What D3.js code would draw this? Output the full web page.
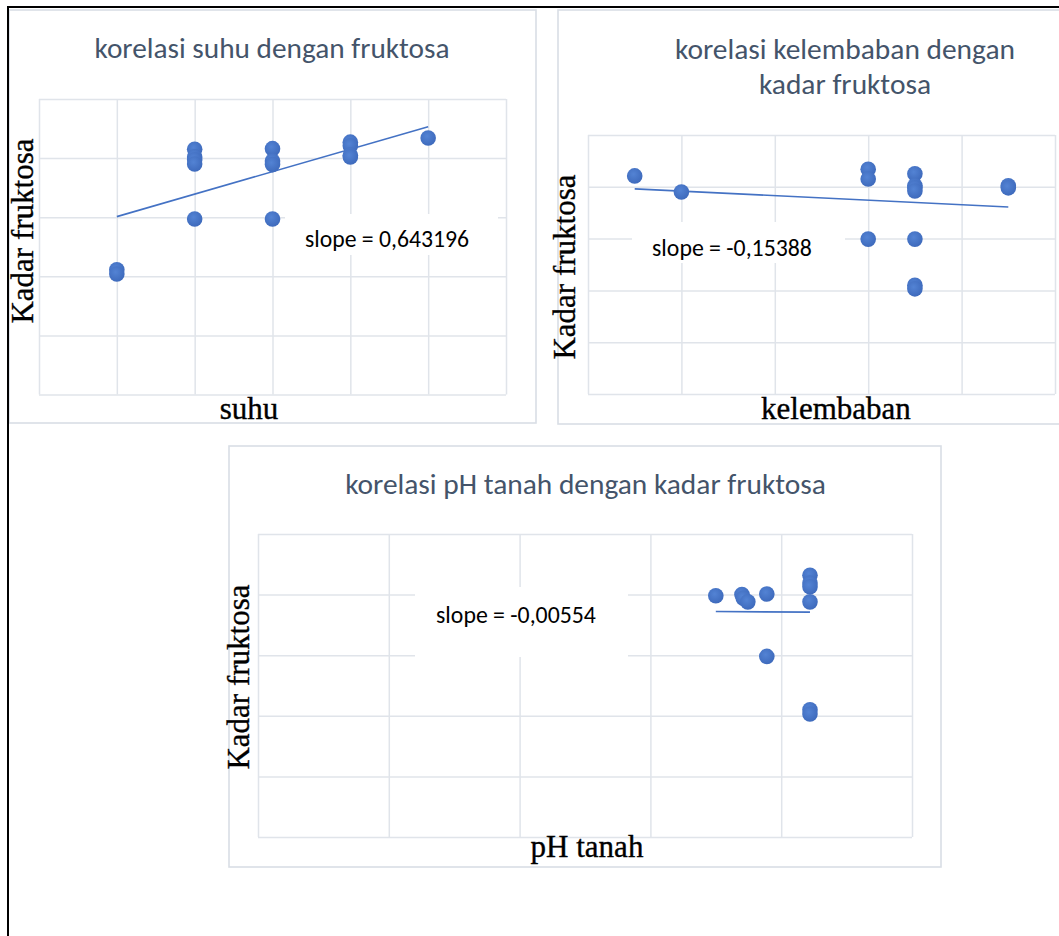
<!DOCTYPE html>
<html><head><meta charset="utf-8">
<script src="https://cdn.jsdelivr.net/npm/d3@7"></script>
<style>html,body{margin:0;padding:0;background:#fff;} svg{display:block;}</style>
</head><body><svg id="c" width="1059" height="936"></svg>
<script>
// ---------------- data ----------------
const yTicks = [0, 1, 2, 3, 4, 5];

// chart 1: suhu
const suhuTicks = [0, 1, 2, 3, 4, 5, 6];
const suhuX = [1, 1, 2, 2, 2, 2, 2, 3, 3, 3, 3, 4, 4, 4, 4, 5];
const suhuY = [2.11, 2.04, 4.15, 4.02, 3.97, 3.90, 2.97, 4.16, 3.95, 3.89, 2.97, 4.27, 4.21, 4.05, 4.02, 4.34];
const suhuTrendX = [1, 5];
const suhuTrendY = [3.01, 4.53];
const suhuSlope = "slope = 0,643196";

// chart 2: kelembaban
const kelTicks = [0, 20, 40, 60, 80, 100];
const kelX = [10, 20, 60, 60, 60, 70, 70, 70, 70, 70, 70, 70, 90, 90];
const kelY = [4.21, 3.90, 4.34, 4.15, 2.99, 4.25, 4.02, 3.98, 3.92, 2.99, 2.10, 2.03, 4.02, 3.98];
const kelTrendX = [10, 90];
const kelTrendY = [3.96, 3.61];
const kelSlope = "slope = -0,15388";

// chart 3: pH tanah
const phTicks = [0, 2, 4, 6, 8, 10];
const phX = [7.0, 7.4, 7.42, 7.49, 7.78, 7.78, 8.44, 8.44, 8.44, 8.44, 8.44, 8.44];
const phY = [3.98, 4.00, 3.94, 3.88, 4.01, 2.98, 4.32, 4.19, 4.13, 3.88, 2.10, 2.03];
const phTrendX = [7.0, 8.44];
const phTrendY = [3.72, 3.71];
const phSlope = "slope = -0,00554";

const titles = [
  ["korelasi suhu dengan fruktosa"],
  ["korelasi kelembaban dengan", "kadar fruktosa"],
  ["korelasi pH tanah dengan kadar fruktosa"]
];
const xLabels = ["suhu", "kelembaban", "pH tanah"];
const yLabel = "Kadar fruktosa";

// ---------------- drawing ----------------
const svg = d3.select("#c");
const SANS = "Carlito, Calibri, Lato, 'Open Sans', sans-serif";
const SERIF = "'Liberation Serif', 'Times New Roman', serif";
const GRID = "#e0e4ea";
const BORDER = "#d9dee5";
const BLUE = "#4472C4";

const defs = svg.append("defs");
const grad = defs.append("radialGradient").attr("id", "mk").attr("cx", "42%").attr("cy", "38%").attr("r", "65%");
grad.append("stop").attr("offset", "0%").attr("stop-color", "#5383d4");
grad.append("stop").attr("offset", "100%").attr("stop-color", "#3d69bb");

svg.append("rect").attr("width", 1059).attr("height", 936).attr("fill", "#fff");

function fit(sel, target, base) {
  sel.style("font-size", base + "px");
  const w = sel.node().getComputedTextLength();
  const s = base * target / w;
  sel.style("font-size", s + "px");
  return s;
}

const charts = [
  { xs: suhuX, ys: suhuY, tx: suhuTrendX, ty: suhuTrendY, ticks: suhuTicks, slope: suhuSlope,
    box: [9, 10, 527, 413], plot: [39, 99, 506, 394.5],
    titleX: 272, titleY: [58], titleW: 355,
    yl: [33, 231], xl: [249, 419],
    sbox: [285, 214, 213, 41], stext: [387, 247], sW: 164 },
  { xs: kelX, ys: kelY, tx: kelTrendX, ty: kelTrendY, ticks: kelTicks, slope: kelSlope,
    box: [558, 10, 520, 414], plot: [588, 135, 1055, 394],
    titleX: 845, titleY: [59, 94], titleW: 340,
    yl: [575, 267], xl: [836, 419],
    sbox: [632, 222, 213, 41], stext: [732, 256], sW: 160 },
  { xs: phX, ys: phY, tx: phTrendX, ty: phTrendY, ticks: phTicks, slope: phSlope,
    box: [229, 446, 712, 421], plot: [258, 534, 912, 837],
    titleX: 585.5, titleY: [494], titleW: 481,
    yl: [249, 677], xl: [587, 857],
    sbox: [415, 587, 213, 70], stext: [516, 623], sW: 160 }
];

charts.forEach((c, i) => {
  const g = svg.append("g");
  g.append("rect").attr("x", c.box[0]).attr("y", c.box[1]).attr("width", c.box[2]).attr("height", c.box[3])
    .attr("fill", "#fff").attr("stroke", BORDER).attr("stroke-width", 1.6);

  const [l, t, r, b] = c.plot;
  const x = d3.scaleLinear().domain([c.ticks[0], c.ticks[c.ticks.length - 1]]).range([l, r]);
  const y = d3.scaleLinear().domain([yTicks[0], yTicks[yTicks.length - 1]]).range([b, t]);

  const gx = g.append("g").attr("transform", `translate(0,${b})`)
    .call(d3.axisBottom(x).tickValues(c.ticks).tickSize(-(b - t)).tickFormat(""));
  const gy = g.append("g").attr("transform", `translate(${l},0)`)
    .call(d3.axisLeft(y).tickValues(yTicks).tickSize(-(r - l)).tickFormat(""));
  [gx, gy].forEach(a => {
    a.select(".domain").remove();
    a.selectAll("line").attr("stroke", GRID).attr("stroke-width", 1.5);
  });

  const tt = g.append("text").attr("text-anchor", "middle").attr("fill", "#44546A")
    .style("font-family", SANS);
  const first = tt.append("tspan").attr("x", c.titleX).attr("y", c.titleY[0]).text(titles[i][0]);
  const fs = fit(first, c.titleW, 28);
  titles[i].slice(1).forEach((line, k) => {
    tt.append("tspan").attr("x", c.titleX).attr("y", c.titleY[k + 1]).text(line);
  });
  tt.style("font-size", fs + "px");
  first.style("font-size", null);

  g.append("text").attr("transform", `translate(${c.yl[0]},${c.yl[1]}) rotate(-90)`)
    .attr("text-anchor", "middle").style("font-family", SERIF).style("font-size", "31px")
    .attr("fill", "#000").attr("stroke", "#000").attr("stroke-width", 0.35).text(yLabel);
  g.append("text").attr("x", c.xl[0]).attr("y", c.xl[1]).attr("text-anchor", "middle")
    .style("font-family", SERIF).style("font-size", "31px").attr("fill", "#000")
    .attr("stroke", "#000").attr("stroke-width", 0.35).text(xLabels[i]);

  g.append("rect").attr("x", c.sbox[0]).attr("y", c.sbox[1]).attr("width", c.sbox[2]).attr("height", c.sbox[3])
    .attr("fill", "#fff");
  const st = g.append("text").attr("x", c.stext[0]).attr("y", c.stext[1]).attr("text-anchor", "middle")
    .style("font-family", SANS).attr("fill", "#000").text(c.slope);
  fit(st, c.sW, 22);

  const line = d3.line().x(d => x(d[0])).y(d => y(d[1]));
  g.append("path").datum(c.tx.map((v, k) => [v, c.ty[k]])).attr("d", line)
    .attr("fill", "none").attr("stroke", BLUE).attr("stroke-width", 1.6);

  g.selectAll("circle.pt").data(c.xs.map((v, k) => [v, c.ys[k]])).enter().append("circle")
    .attr("class", "pt").attr("cx", d => x(d[0])).attr("cy", d => y(d[1])).attr("r", 7.8)
    .attr("fill", "url(#mk)");
});

svg.append("line").attr("x1", 8).attr("y1", 7).attr("x2", 1059).attr("y2", 7).attr("stroke", "#000").attr("stroke-width", 2);
svg.append("line").attr("x1", 8).attr("y1", 6).attr("x2", 8).attr("y2", 936).attr("stroke", "#000").attr("stroke-width", 2);
</script></body></html>
